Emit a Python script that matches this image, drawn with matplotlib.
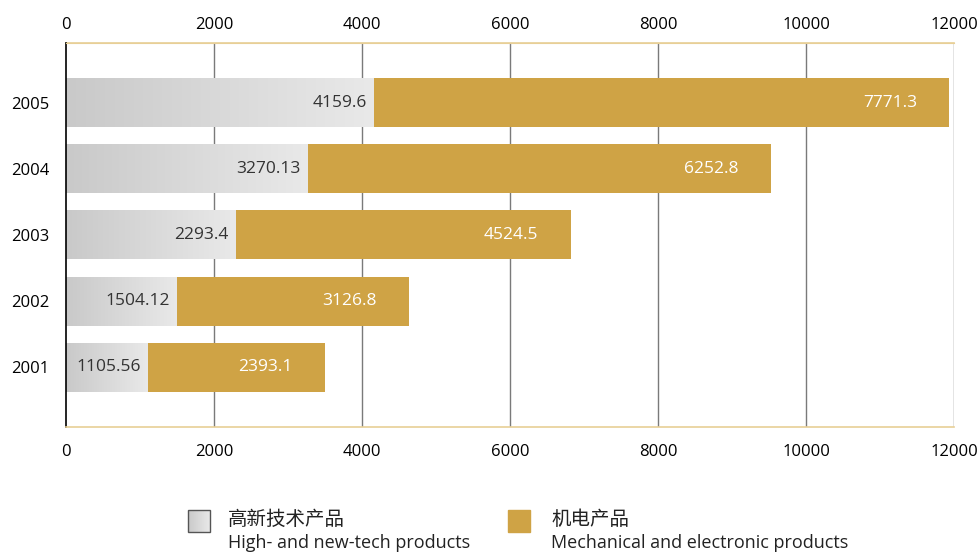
import matplotlib.pyplot as plt
from matplotlib.colors import LinearSegmentedColormap
from matplotlib.patches import Rectangle
import numpy as np

plt.rcParams['font.family'] = ['Open Sans', 'Noto Sans CJK SC', 'DejaVu Sans']

# datos
anios = ['2001', '2002', '2003', '2004', '2005']
alta_tecnologia = [1105.56, 1504.12, 2293.4, 3270.13, 4159.6]
mecanico_electronico = [2393.1, 3126.8, 4524.5, 6252.8, 7771.3]
ticks_x = [0, 2000, 4000, 6000, 8000, 10000, 12000]

color_oro = '#cfa345'
color_borde = '#e8cf96'
gris = LinearSegmentedColormap.from_list('gris', ['#c9c9c9', '#e9e9e9'])

fig = plt.figure(figsize=(9.79, 5.56), dpi=100)
ax = fig.add_axes([0.0674, 0.232, 0.9071, 0.6907])

alto = 0.74
y = np.arange(len(anios))
gradiente = np.linspace(0, 1, 256).reshape(1, -1)

for i, (a, m) in enumerate(zip(alta_tecnologia, mecanico_electronico)):
    # barra gris con degradado
    ax.imshow(gradiente, cmap=gris, aspect='auto', interpolation='bicubic',
              extent=[0, a, y[i] - alto / 2, y[i] + alto / 2], zorder=2)
    ax.barh(y[i], m, left=a, height=alto, color=color_oro, zorder=2)
    ax.annotate(f'{a}', xy=(a, y[i]), xytext=(-5, 0), textcoords='offset points',
                ha='right', va='center', fontsize=12.5, color='#333333', zorder=3)
    ax.annotate(f'{m}', xy=(a + m, y[i]), xytext=(-23, 0), textcoords='offset points',
                ha='right', va='center', fontsize=12.5, color='white', zorder=3)

ax.set_xlim(0, 12000)
ax.set_ylim(-0.9, 4.9)
ax.set_yticks(y)
ax.set_yticklabels(anios, fontsize=12)
ax.set_xticks(ticks_x)
ax.set_xticklabels([str(t) for t in ticks_x], fontsize=12)
ax.tick_params(axis='x', length=0, pad=12)
ax.tick_params(axis='y', length=0, pad=12)

# eje superior
arriba = ax.secondary_xaxis('top')
arriba.set_xticks(ticks_x)
arriba.set_xticklabels([str(t) for t in ticks_x], fontsize=12)
arriba.tick_params(length=0, pad=7)
arriba.spines['top'].set_color(color_borde)
arriba.spines['top'].set_linewidth(1.2)

for t in ticks_x[1:]:
    ax.axvline(t, color='#7a7a7a', linewidth=1, zorder=1)

ax.spines['top'].set_color(color_borde)
ax.spines['bottom'].set_color(color_borde)
ax.spines['bottom'].set_linewidth(1.2)
ax.spines['right'].set_visible(False)
ax.spines['left'].set_color('black')
ax.spines['left'].set_linewidth(1.2)

# leyenda
leyenda = fig.add_axes([0, 0, 1, 1], facecolor='none')
leyenda.axis('off')
leyenda.imshow(gradiente, cmap=gris, aspect='auto', extent=[188, 210, 532, 510])
leyenda.add_patch(Rectangle((188, 510), 22, 22, fill=False, edgecolor='#555555', linewidth=1))
leyenda.add_patch(Rectangle((508, 510), 22, 22, color=color_oro))
leyenda.text(228, 520, '高新技术产品', fontsize=14, va='center', color='#222222')
leyenda.text(228, 543, 'High- and new-tech products', fontsize=13, va='center', color='#222222')
leyenda.text(551, 520, '机电产品', fontsize=14, va='center', color='#222222')
leyenda.text(551, 543, 'Mechanical and electronic products', fontsize=13, va='center', color='#222222')
leyenda.set_xlim(0, 979)
leyenda.set_ylim(556, 0)

fig.savefig('out.png', dpi=100)
